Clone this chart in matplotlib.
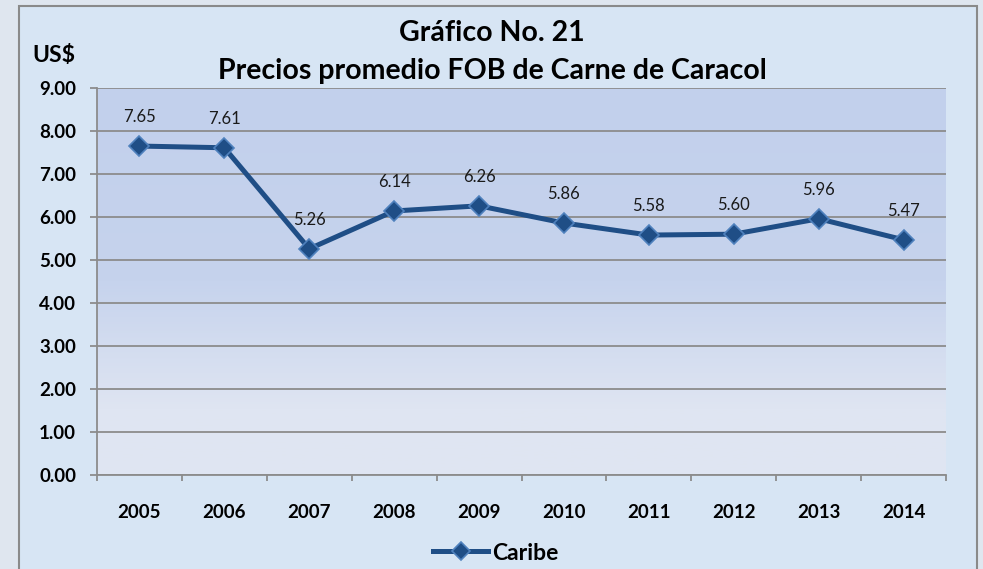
import numpy as np
import matplotlib.pyplot as plt
from matplotlib.colors import LinearSegmentedColormap
from matplotlib.patches import Rectangle

# datos
anios = ["2005", "2006", "2007", "2008", "2009", "2010", "2011", "2012", "2013", "2014"]
precios = [7.65, 7.61, 5.26, 6.14, 6.26, 5.86, 5.58, 5.60, 5.96, 5.47]
etiquetas = ["7.65", "7.61", "5.26", "6.14", "6.26", "5.86", "5.58", "5.60", "5.96", "5.47"]
serie = "Caribe"

plt.rcParams["font.family"] = ["Lato", "DejaVu Sans"]

W, H = 983, 569
fig = plt.figure(figsize=(W / 100, H / 100), dpi=100)
fig.patch.set_facecolor("#dfe6ef")

# marco del grafico
fig.patches.append(Rectangle((19 / W, -0.01), (977 - 19) / W, 1 - 6 / H + 0.01,
                             transform=fig.transFigure, facecolor="#d7e5f4",
                             edgecolor="#8a8a8a", linewidth=1.5, zorder=-5))

ax = fig.add_axes([97 / W, 1 - 475 / H, (946 - 97) / W, (475 - 88) / H], zorder=2)
ax.set_facecolor("none")

x = np.arange(len(anios))
ax.set_xlim(-0.5, len(anios) - 0.5)
ax.set_ylim(0, 9)

# degradado del area de trazado
cmap = LinearSegmentedColormap.from_list("fondo", [(0, "#e0e6f2"), (0.17, "#dfe5f2"),
                                                   (0.5, "#c6d3ed"), (1, "#c2d0ec")])
grad = np.linspace(0, 1, 256).reshape(-1, 1)
ax.imshow(grad, aspect="auto", cmap=cmap, origin="lower",
          extent=(-0.5, len(anios) - 0.5, 0, 9), zorder=0)

ax.set_yticks(np.arange(0, 10, 1))
ax.set_yticklabels([f"{v:.2f}" for v in np.arange(0, 10, 1)])
ax.grid(axis="y", color="#8c8c8c", linewidth=1.3, zorder=1)
ax.set_axisbelow(True)

ax.set_xticks(x)
ax.set_xticklabels(anios)
ax.set_xticks(np.arange(-0.5, len(anios), 1), minor=True)
ax.tick_params(axis="x", which="major", length=0, pad=21, labelsize=13.5)
ax.tick_params(axis="x", which="minor", length=4, color="#8c8c8c", width=1.3)
ax.tick_params(axis="y", length=5, color="#8c8c8c", width=1.3, pad=10, labelsize=13.5)
for lab in ax.get_xticklabels() + ax.get_yticklabels():
    lab.set_fontweight("bold")

for s in ["top", "right"]:
    ax.spines[s].set_visible(False)
for s in ["left", "bottom"]:
    ax.spines[s].set_color("#8c8c8c")
    ax.spines[s].set_linewidth(1.3)

ax.plot(x, precios, color="#1f4e86", linewidth=3.6, marker="D", markersize=10.5,
        markerfacecolor="#1f4e86", markeredgecolor="#4f81bd", markeredgewidth=1.2,
        label=serie, zorder=3)

for xi, yi, t in zip(x, precios, etiquetas):
    ax.annotate(t, (xi, yi), xytext=(0, 21), textcoords="offset points",
                ha="center", va="center", fontsize=12, color="#1a1a1a")

fig.text(492 / W, 1 - 33 / H, "Gráfico No. 21", ha="center", va="center",
         fontsize=20.5, fontweight="bold")
fig.text(492 / W, 1 - 71 / H, "Precios promedio FOB de Carne de Caracol", ha="center",
         va="center", fontsize=20.5, fontweight="bold")
fig.text(54 / W, 1 - 55 / H, "US$", ha="center", va="center", fontsize=16.5,
         fontweight="bold")

leg = fig.legend(loc="center", bbox_to_anchor=(496 / W, 1 - 553 / H), frameon=False,
                 prop={"weight": "bold", "size": 16.5}, handlelength=2.4,
                 handletextpad=0.2, markerscale=0.85)

fig.savefig("out.png", dpi=100, facecolor=fig.get_facecolor())
